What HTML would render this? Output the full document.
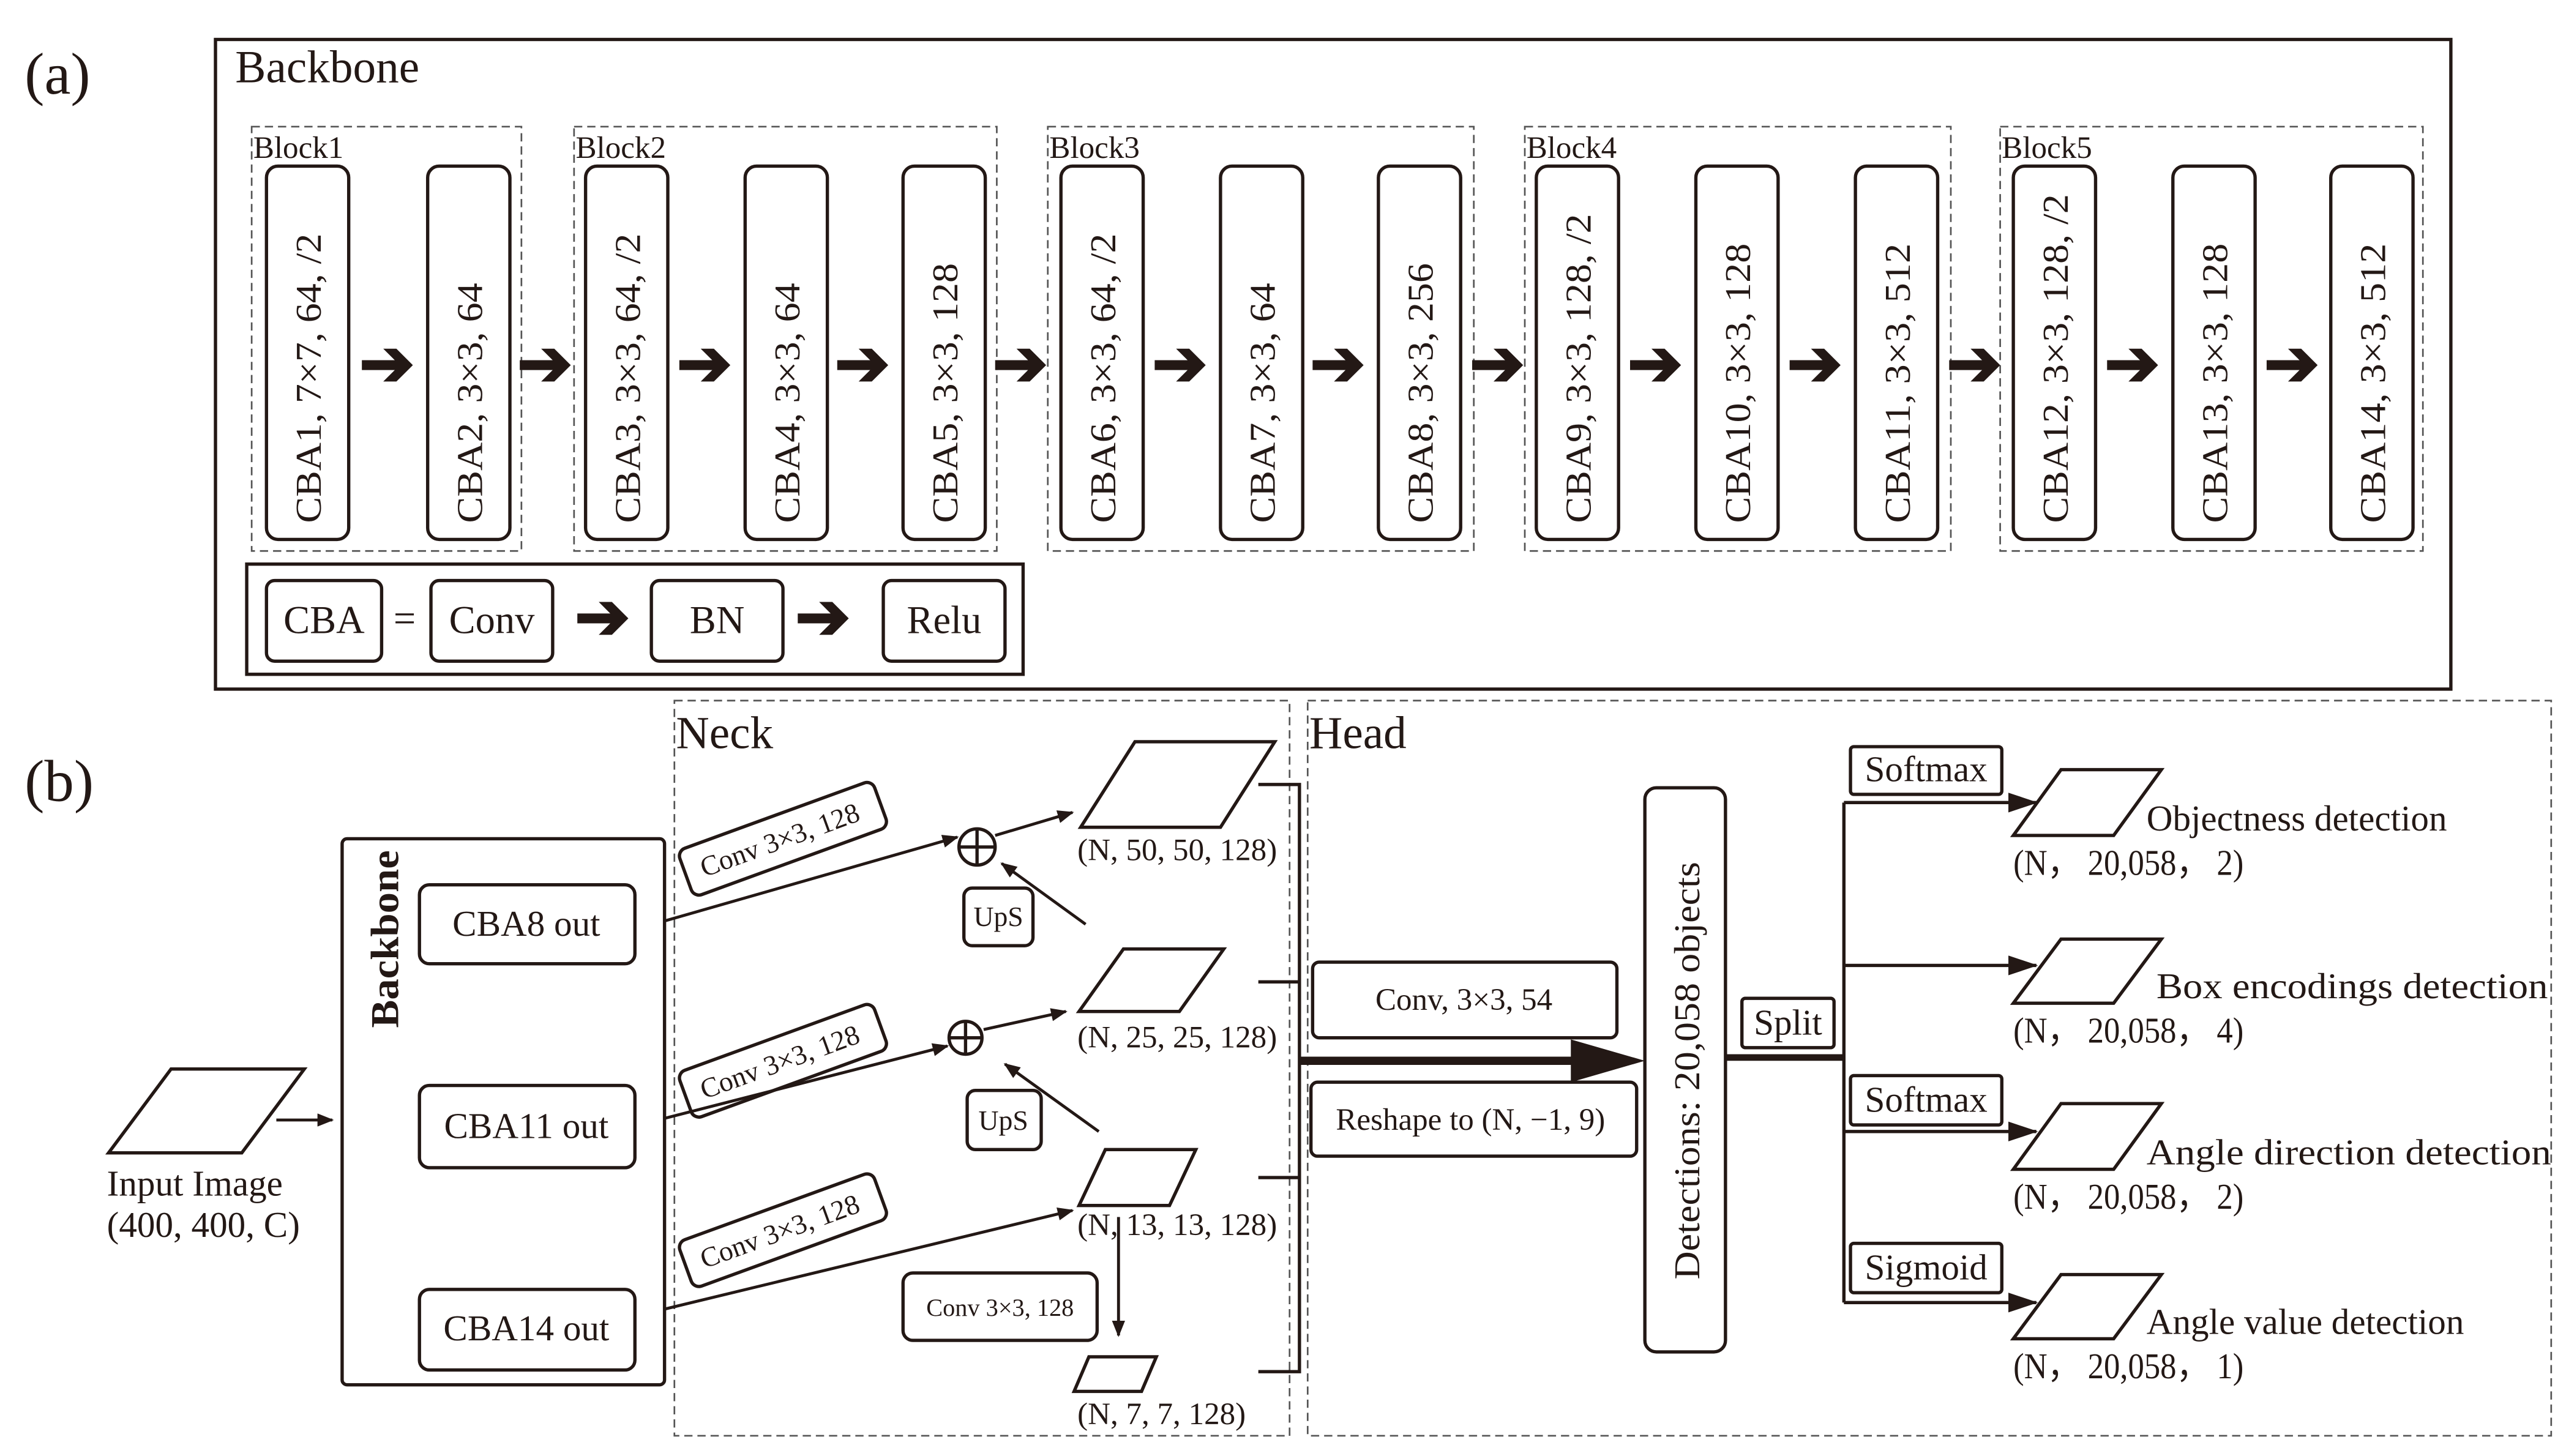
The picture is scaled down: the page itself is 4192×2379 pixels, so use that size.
<!DOCTYPE html>
<html><head><meta charset="utf-8"><style>
html,body{margin:0;padding:0;background:#fff}
svg{display:block}
text{font-family:"Liberation Serif",serif;fill:#231815}
</style></head><body>
<svg width="4192" height="2379" viewBox="0 0 1560 885.3" preserveAspectRatio="none" xmlns="http://www.w3.org/2000/svg">
<defs>
<marker id="ah" markerWidth="10" markerHeight="8" refX="9" refY="4" orient="auto" markerUnits="userSpaceOnUse"><path d="M0,0 L10,4 L0,8 Z" fill="#231815"/></marker>
<marker id="ah2" markerWidth="18" markerHeight="12" refX="17" refY="6" orient="auto" markerUnits="userSpaceOnUse"><path d="M0,0 L18,6 L0,12 Z" fill="#231815"/></marker>
<g id="ba"><path d="M-16,-3 H4 L-3,-10 H5 L15,0 L5,10 H-3 L4,3 H-16 Z" fill="#231815"/></g>
</defs>
<g stroke="#231815" fill="none">
<rect x="131" y="24" width="1359" height="395" stroke-width="2"/>
<g stroke="#555" stroke-dasharray="5,3" stroke-width="1">
<rect x="153" y="77" width="164" height="258"/>
<rect x="349" y="77" width="257" height="258"/>
<rect x="637" y="77" width="259" height="258"/>
<rect x="927" y="77" width="259" height="258"/>
<rect x="1216" y="77" width="257" height="258"/>
</g>
<g stroke-width="2">
<rect x="162" y="101" width="50" height="227" rx="7"/>
<rect x="260" y="101" width="50" height="227" rx="7"/>
<rect x="356" y="101" width="50" height="227" rx="7"/>
<rect x="453" y="101" width="50" height="227" rx="7"/>
<rect x="549" y="101" width="50" height="227" rx="7"/>
<rect x="645" y="101" width="50" height="227" rx="7"/>
<rect x="742" y="101" width="50" height="227" rx="7"/>
<rect x="838" y="101" width="50" height="227" rx="7"/>
<rect x="934" y="101" width="50" height="227" rx="7"/>
<rect x="1031" y="101" width="50" height="227" rx="7"/>
<rect x="1128" y="101" width="50" height="227" rx="7"/>
<rect x="1224" y="101" width="50" height="227" rx="7"/>
<rect x="1321" y="101" width="50" height="227" rx="7"/>
<rect x="1417" y="101" width="50" height="227" rx="7"/>
<rect x="150" y="343" width="472" height="67"/>
<rect x="162" y="353" width="70" height="49" rx="5"/>
<rect x="262" y="353" width="74" height="49" rx="5"/>
<rect x="396" y="353" width="80" height="49" rx="5"/>
<rect x="537" y="353" width="74" height="49" rx="5"/>
</g>
</g>
<g>
<use href="#ba" x="236" y="222"/><use href="#ba" x="332" y="222"/><use href="#ba" x="429" y="222"/><use href="#ba" x="525" y="222"/>
<use href="#ba" x="621" y="222"/><use href="#ba" x="718" y="222"/><use href="#ba" x="814" y="222"/><use href="#ba" x="911" y="222"/>
<use href="#ba" x="1007" y="222"/><use href="#ba" x="1104" y="222"/><use href="#ba" x="1201" y="222"/><use href="#ba" x="1297" y="222"/>
<use href="#ba" x="1394" y="222"/>
<use href="#ba" x="367" y="376"/><use href="#ba" x="501" y="376"/>
</g>
<text x="15" y="57" font-size="36">(a)</text>
<text x="143" y="50" font-size="28">Backbone</text>
<g font-size="19"><text x="154" y="96">Block1</text><text x="350" y="96">Block2</text><text x="638" y="96">Block3</text><text x="928" y="96">Block4</text><text x="1217" y="96">Block5</text></g>
<g font-size="22" font-family="Liberation Sans, sans-serif">
<text transform="translate(195,318) rotate(-90)" textLength="176" lengthAdjust="spacingAndGlyphs">CBA1, 7×7, 64, /2</text>
<text transform="translate(293,318) rotate(-90)" textLength="146" lengthAdjust="spacingAndGlyphs">CBA2, 3×3, 64</text>
<text transform="translate(389,318) rotate(-90)" textLength="176" lengthAdjust="spacingAndGlyphs">CBA3, 3×3, 64, /2</text>
<text transform="translate(486,318) rotate(-90)" textLength="146" lengthAdjust="spacingAndGlyphs">CBA4, 3×3, 64</text>
<text transform="translate(582,318) rotate(-90)" textLength="158" lengthAdjust="spacingAndGlyphs">CBA5, 3×3, 128</text>
<text transform="translate(678,318) rotate(-90)" textLength="176" lengthAdjust="spacingAndGlyphs">CBA6, 3×3, 64, /2</text>
<text transform="translate(775,318) rotate(-90)" textLength="146" lengthAdjust="spacingAndGlyphs">CBA7, 3×3, 64</text>
<text transform="translate(871,318) rotate(-90)" textLength="158" lengthAdjust="spacingAndGlyphs">CBA8, 3×3, 256</text>
<text transform="translate(967,318) rotate(-90)" textLength="188" lengthAdjust="spacingAndGlyphs">CBA9, 3×3, 128, /2</text>
<text transform="translate(1064,318) rotate(-90)" textLength="170" lengthAdjust="spacingAndGlyphs">CBA10, 3×3, 128</text>
<text transform="translate(1161,318) rotate(-90)" textLength="170" lengthAdjust="spacingAndGlyphs">CBA11, 3×3, 512</text>
<text transform="translate(1257,318) rotate(-90)" textLength="200" lengthAdjust="spacingAndGlyphs">CBA12, 3×3, 128, /2</text>
<text transform="translate(1354,318) rotate(-90)" textLength="170" lengthAdjust="spacingAndGlyphs">CBA13, 3×3, 128</text>
<text transform="translate(1450,318) rotate(-90)" textLength="170" lengthAdjust="spacingAndGlyphs">CBA14, 3×3, 512</text>
</g>
<g font-size="24" text-anchor="middle"><text x="197" y="385">CBA</text><text x="246" y="384" fill="#777">=</text><text x="299" y="385">Conv</text><text x="436" y="385">BN</text><text x="574" y="385">Relu</text></g>

<text x="15" y="487" font-size="36">(b)</text>
<g stroke="#555" stroke-dasharray="5,3" stroke-width="1" fill="none">
<rect x="410" y="426" width="374" height="447"/>
<rect x="795" y="426" width="756" height="447"/>
</g>
<text x="411" y="455" font-size="28">Neck</text>
<text x="796" y="455" font-size="28">Head</text>
<g stroke="#231815" stroke-width="2" fill="none">
<polygon points="66,701 104,650 185,650 147,701"/>
<rect x="208" y="510" width="196" height="332" rx="3"/>
<rect x="255" y="538" width="131" height="48" rx="6"/>
<rect x="255" y="660" width="131" height="50" rx="6"/>
<rect x="255" y="784" width="131" height="49" rx="6"/>
<polygon points="657,503 690,451 775,451 742,503"/>
<polygon points="656,615 683,577 744,577 717,615"/>
<polygon points="656,733 672,699 727,699 711,733"/>
<polygon points="653,846 662,825 703,825 694,846"/>
<rect x="586" y="540" width="42" height="35" rx="5"/>
<rect x="588" y="663" width="45" height="36" rx="5"/>
<rect x="549" y="774" width="118" height="41" rx="6"/>
<circle cx="594" cy="515" r="11"/><path d="M583,515 H605 M594,504 V526"/>
<circle cx="587" cy="631" r="10"/><path d="M577,631 H597 M587,621 V641"/>
<g transform="translate(476,510) rotate(-20)"><rect x="-63" y="-15" width="126" height="30" rx="5"/></g>
<g transform="translate(476,645) rotate(-20)"><rect x="-63" y="-15" width="126" height="30" rx="5"/></g>
<g transform="translate(476,748) rotate(-20)"><rect x="-63" y="-15" width="126" height="30" rx="5"/></g>
</g>
<g stroke="#231815" stroke-width="1.8" fill="none" marker-end="url(#ah)">
<path d="M168,681 H202"/>
<path d="M404,560 L582,509"/>
<path d="M404,680 L576,636"/>
<path d="M404,796 L652,736"/>
<path d="M605,508 L652,494"/>
<path d="M598,626 L648,615"/>
<path d="M660,562 L609,525"/>
<path d="M668,688 L611,647"/>
<path d="M680,740 V812"/>
</g>
<text x="65" y="727" font-size="22">Input Image</text>
<text x="65" y="752" font-size="22" fill="#555">(400, 400, C)</text>
<text transform="translate(242,625) rotate(-90)" font-size="24" font-weight="bold" textLength="108" lengthAdjust="spacingAndGlyphs">Backbone</text>
<g font-size="22" text-anchor="middle"><text x="320" y="569">CBA8 out</text><text x="320" y="692">CBA11 out</text><text x="320" y="815">CBA14 out</text></g>
<g font-size="17" text-anchor="middle">
<text transform="translate(476,516) rotate(-20)">Conv 3×3, 128</text>
<text transform="translate(476,651) rotate(-20)">Conv 3×3, 128</text>
<text transform="translate(476,754) rotate(-20)">Conv 3×3, 128</text>
<text x="607" y="563">UpS</text><text x="610" y="687">UpS</text>
</g>
<text x="608" y="800" font-size="15" text-anchor="middle">Conv 3×3, 128</text>
<g font-size="19"><text x="655" y="523">(N, 50, 50, 128)</text><text x="655" y="637">(N, 25, 25, 128)</text><text x="655" y="751">(N, 13, 13, 128)</text><text x="655" y="866">(N, 7, 7, 128)</text></g>
<g stroke="#231815" stroke-width="2" fill="none">
<path d="M765,477 H790 V834 H765 M765,597 H790 M765,716 H790"/>
<path d="M790,645 H958" stroke-width="5"/>
<rect x="798" y="585" width="185" height="46" rx="4"/>
<rect x="797" y="658" width="198" height="45" rx="4"/>
<rect x="1000" y="479" width="49" height="343" rx="7"/>
<path d="M1049,643 H1121" stroke-width="4"/>
<path d="M1121,488 V792"/>
<rect x="1059" y="607" width="56" height="30" rx="2"/>
<rect x="1125" y="454" width="92" height="29" rx="2"/>
<rect x="1125" y="654" width="92" height="30" rx="2"/>
<rect x="1125" y="756" width="92" height="30" rx="2"/>
<polygon points="1224,508 1253,468 1314,468 1285,508"/>
<polygon points="1224,610 1253,571 1314,571 1285,610"/>
<polygon points="1224,711 1253,671 1314,671 1285,711"/>
<polygon points="1224,814 1253,775 1314,775 1285,814"/>
</g>
<polygon points="955,632 1000,645 955,658" fill="#231815"/>
<g stroke="#231815" stroke-width="2" marker-end="url(#ah2)">
<path d="M1121,488 H1238"/><path d="M1121,587 H1238"/><path d="M1121,688 H1238"/><path d="M1121,792 H1238"/>
</g>
<g font-size="19" text-anchor="middle"><text x="890" y="614">Conv, 3×3, 54</text><text x="894" y="687">Reshape to (N, −1, 9)</text></g>
<text transform="translate(1033,778) rotate(-90)" font-size="22" font-family="Liberation Sans, sans-serif" textLength="254" lengthAdjust="spacingAndGlyphs">Detections: 20,058 objects</text>
<g font-size="22" text-anchor="middle"><text x="1087" y="629">Split</text><text x="1171" y="475">Softmax</text><text x="1171" y="676">Softmax</text><text x="1171" y="778">Sigmoid</text></g>
<g font-size="22">
<text x="1305" y="505">Objectness detection</text>
<text x="1311" y="607" textLength="238" lengthAdjust="spacingAndGlyphs">Box encodings  detection</text>
<text x="1305" y="708" textLength="246" lengthAdjust="spacingAndGlyphs">Angle direction  detection</text>
<text x="1305" y="811">Angle value  detection</text>
<text x="1224" y="532" textLength="140" lengthAdjust="spacingAndGlyphs">(N， 20,058， 2)</text>
<text x="1224" y="634" textLength="140" lengthAdjust="spacingAndGlyphs">(N， 20,058， 4)</text>
<text x="1224" y="735" textLength="140" lengthAdjust="spacingAndGlyphs">(N， 20,058， 2)</text>
<text x="1224" y="838" textLength="140" lengthAdjust="spacingAndGlyphs">(N， 20,058， 1)</text>
</g>
</svg>
</body></html>
